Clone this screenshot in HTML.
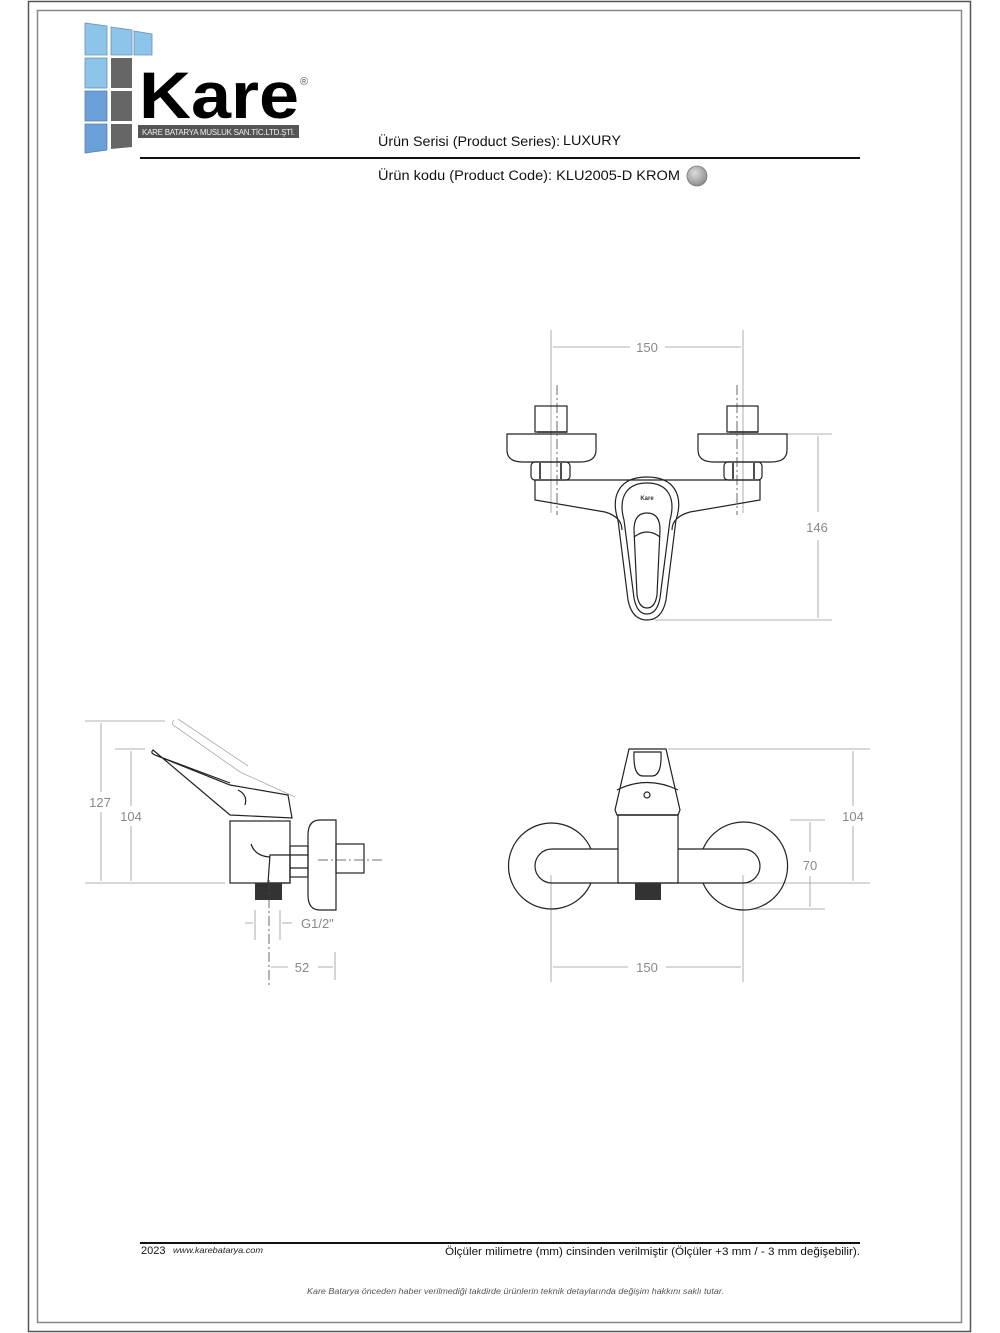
<!DOCTYPE html>
<html><head><meta charset="utf-8"><style>
html,body{margin:0;padding:0;background:#fff;}
svg{display:block;}
text{font-family:"Liberation Sans",Arial,sans-serif;}
</style></head><body>
<svg width="1000" height="1333" viewBox="0 0 1000 1333" xmlns="http://www.w3.org/2000/svg">
<rect x="28.5" y="1.5" width="942" height="1330" fill="none" stroke="#555" stroke-width="1.5"/>
<rect x="37.5" y="10.5" width="924" height="1312" fill="none" stroke="#888" stroke-width="1.5"/>

<!-- logo -->
<g>
<polygon points="85,23 107,26 107,55 85,55" fill="#8cc4ea" stroke="#6a8fb5" stroke-width="0.8"/>
<polygon points="111,27 132,30 132,55 111,55" fill="#8cc4ea" stroke="#6a8fb5" stroke-width="0.8"/>
<polygon points="134,31 152,34 152,55 134,55" fill="#8cc4ea" stroke="#6a8fb5" stroke-width="0.8"/>
<rect x="85" y="58" width="22" height="30" fill="#8cc4ea" stroke="#6a8fb5" stroke-width="0.8"/>
<rect x="111" y="58" width="21" height="30" fill="#666"/>
<rect x="85" y="91" width="22" height="30" fill="#6a9fd8" stroke="#5a7fb5" stroke-width="0.8"/>
<rect x="111" y="91" width="21" height="30" fill="#666"/>
<polygon points="85,124 107,124 107,150 85,153" fill="#6a9fd8" stroke="#5a7fb5" stroke-width="0.8"/>
<polygon points="111,124 132,124 132,147 111,149" fill="#666"/>
<text x="139" y="118" font-size="66" font-weight="bold" fill="#000" textLength="160" lengthAdjust="spacingAndGlyphs">Kare</text>
<text x="300" y="85" font-size="11" fill="#555">®</text>
<rect x="138" y="125" width="161" height="13" fill="#555"/>
<text x="142" y="135" font-size="8" fill="#eee" textLength="153">KARE BATARYA MUSLUK SAN.TİC.LTD.ŞTİ.</text>
</g>

<text x="378" y="146" font-size="13.5" fill="#111" textLength="182" lengthAdjust="spacingAndGlyphs">Ürün Serisi (Product Series):</text>
<text x="563" y="145" font-size="13.5" fill="#111" textLength="58" lengthAdjust="spacingAndGlyphs">LUXURY</text>
<line x1="140" y1="158" x2="860" y2="158" stroke="#111" stroke-width="2"/>
<text x="378" y="180" font-size="13.5" fill="#111" textLength="302" lengthAdjust="spacingAndGlyphs">Ürün kodu (Product Code): KLU2005-D  KROM</text>
<defs><radialGradient id="g" cx="0.4" cy="0.35" r="0.7"><stop offset="0" stop-color="#ddd"/><stop offset="1" stop-color="#888"/></radialGradient></defs>
<circle cx="697" cy="176" r="10" fill="url(#g)" stroke="#777" stroke-width="0.8"/>

<!-- TOP VIEW -->
<g stroke="#999" stroke-width="0.8" fill="none">
<line x1="551" y1="330" x2="551" y2="513"/>
<line x1="743" y1="330" x2="743" y2="513"/>
<line x1="553" y1="347" x2="630" y2="347"/>
<line x1="665" y1="347" x2="741" y2="347"/>
<line x1="787" y1="434" x2="832" y2="434"/>
<line x1="655" y1="620" x2="832" y2="620"/>
<line x1="818" y1="436" x2="818" y2="512"/>
<line x1="818" y1="540" x2="818" y2="618"/>
</g>
<text x="647" y="352" font-size="13" fill="#888" text-anchor="middle">150</text>
<text x="817" y="532" font-size="13" fill="#888" text-anchor="middle">146</text>
<g stroke="#222" stroke-width="1.2" fill="none">
<rect x="535" y="406" width="32" height="26"/>
<rect x="727" y="406" width="31" height="26"/>
<path d="M507,434 H596 V450 Q596,462 580,462 H523 Q507,462 507,450 Z"/>
<path d="M698,434 H787 V450 Q787,462 771,462 H714 Q698,462 698,450 Z"/>
<rect x="531" y="462" width="39" height="18" rx="4"/>
<rect x="724" y="462" width="38" height="18" rx="4"/>
<path d="M535,480 H760 V500 L690,512 Q672,517 672,530 M535,480 V500 L605,512 Q622,517 622,530"/>
<path d="M647,477 C620,477 610,495 618,520 L628,600 Q632,620 647,620 Q662,620 666,600 L676,520 C684,495 674,477 647,477 Z"/>
<path d="M647,483 C626,483 618,498 624,520 L634,598 Q637,614 647,614 Q657,614 660,598 L670,520 C676,498 668,483 647,483 Z"/>
<path d="M647,513 Q634,513 634,530 L637,595 Q639,608 647,608 Q655,608 657,595 L660,530 Q660,513 647,513 Z"/>
<path d="M634,537 Q647,527 660,537"/>
</g>
<g stroke="#222" stroke-width="1.6" fill="none">
<line x1="537" y1="432" x2="567" y2="432"/><line x1="729" y1="432" x2="758" y2="432"/>
<line x1="540" y1="463" x2="540" y2="479"/><line x1="561" y1="463" x2="561" y2="479"/>
<line x1="733" y1="463" x2="733" y2="479"/><line x1="754" y1="463" x2="754" y2="479"/>
</g>
<g stroke="#444" stroke-width="0.8" stroke-dasharray="10,3,2,3"><line x1="557" y1="385" x2="557" y2="515"/><line x1="737" y1="385" x2="737" y2="515"/></g>
<text x="647" y="500" font-size="6" font-weight="bold" fill="#333" text-anchor="middle">Kare</text>

<!-- SIDE VIEW -->
<g stroke="#999" stroke-width="0.8" fill="none">
<line x1="85" y1="721" x2="165" y2="721"/>
<line x1="85" y1="883" x2="225" y2="883"/>
<line x1="115" y1="749" x2="145" y2="749"/>
<line x1="101" y1="723" x2="101" y2="792"/><line x1="101" y1="812" x2="101" y2="881"/>
<line x1="131" y1="751" x2="131" y2="806"/><line x1="131" y1="826" x2="131" y2="881"/>
<line x1="255" y1="910" x2="255" y2="940"/><line x1="280" y1="910" x2="280" y2="940"/>
<line x1="245" y1="923" x2="253" y2="923"/><line x1="282" y1="923" x2="292" y2="923"/>
<line x1="335" y1="952" x2="335" y2="980"/>
<line x1="271" y1="967" x2="288" y2="967"/><line x1="318" y1="967" x2="333" y2="967"/>
</g>
<text x="100" y="807" font-size="13" fill="#888" text-anchor="middle">127</text>
<text x="131" y="821" font-size="13" fill="#888" text-anchor="middle">104</text>
<text x="301" y="928" font-size="13" fill="#888">G1/2"</text>
<text x="302" y="972" font-size="13" fill="#888" text-anchor="middle">52</text>
<g stroke="#aaa" stroke-width="0.8" fill="none">
<path d="M174,720 Q170,724 176,727 L240,772 L295,797"/>
<path d="M178,719 L248,766"/>
</g>
<g stroke="#222" stroke-width="1.2" fill="none">
<path d="M153,750 Q150,753 155,755 L230,785 L288,795 L292,818 L230,815 Z"/>
<path d="M155,755 L230,783"/>
<path d="M238,790 Q248,795 245,805"/>
<rect x="230" y="821" width="60" height="62"/>
<path d="M251,844 Q255,856 270,857"/>
<path d="M270,855 H290 V883 H268 Z"/>
<rect x="290" y="846" width="18" height="31"/>
<line x1="290" y1="855" x2="308" y2="855"/><line x1="290" y1="868" x2="308" y2="868"/>
<path d="M336,820 H320 Q308,820 308,835 V895 Q308,910 320,910 H336 Z"/>
<rect x="336" y="844" width="28" height="29"/>
</g>
<rect x="255" y="883" width="27" height="17" fill="#333"/>
<g stroke="#444" stroke-width="0.8" stroke-dasharray="10,3,2,3">
<line x1="269" y1="880" x2="269" y2="985"/>
<line x1="318" y1="860" x2="384" y2="860"/>
</g>

<!-- FRONT VIEW -->
<g stroke="#999" stroke-width="0.8" fill="none">
<line x1="668" y1="749" x2="870" y2="749"/>
<line x1="690" y1="883" x2="870" y2="883"/>
<line x1="790" y1="820" x2="825" y2="820"/>
<line x1="752" y1="909" x2="825" y2="909"/>
<line x1="853" y1="751" x2="853" y2="806"/><line x1="853" y1="826" x2="853" y2="881"/>
<line x1="810" y1="822" x2="810" y2="852"/><line x1="810" y1="876" x2="810" y2="907"/>
<line x1="551" y1="875" x2="551" y2="982"/><line x1="743" y1="875" x2="743" y2="982"/>
<line x1="553" y1="967" x2="628" y2="967"/><line x1="666" y1="967" x2="741" y2="967"/>
</g>
<text x="853" y="821" font-size="13" fill="#888" text-anchor="middle">104</text>
<text x="810" y="870" font-size="13" fill="#888" text-anchor="middle">70</text>
<text x="647" y="972" font-size="13" fill="#888" text-anchor="middle">150</text>
<g stroke="#222" stroke-width="1.2" fill="none">
<path d="M591,849 A43,43 0 1 0 591,883"/>
<path d="M703,849 A44,44 0 1 1 703,883"/>
<path d="M618,849 H552 A17,17 0 0 0 552,883 H743 A17,17 0 0 0 743,849 H678"/>
<rect x="618" y="815" width="60" height="68"/>
<path d="M629,749 H666 L680,810 L678,815 H617 L615,810 Z"/>
<path d="M634,752 H661 Q662,776 652,776 H643 Q633,776 634,752 Z"/>
<path d="M617,790 Q647,775 678,790"/>
<line x1="617" y1="815" x2="678" y2="815"/>
<circle cx="647" cy="795" r="3"/>
</g>
<rect x="635" y="883" width="26" height="17" fill="#333"/>

<!-- footer -->
<line x1="140" y1="1243" x2="860" y2="1243" stroke="#111" stroke-width="2"/>
<text x="141" y="1254" font-size="11" fill="#111">2023</text>
<text x="173" y="1253" font-size="8.5" font-style="italic" fill="#222" textLength="90" lengthAdjust="spacingAndGlyphs">www.karebatarya.com</text>
<text x="445" y="1255" font-size="11" fill="#111" textLength="415" lengthAdjust="spacingAndGlyphs">Ölçüler milimetre (mm) cinsinden verilmiştir (Ölçüler  +3 mm / - 3 mm değişebilir).</text>
<text x="307" y="1294" font-size="8.5" font-style="italic" fill="#555" textLength="417" lengthAdjust="spacingAndGlyphs">Kare Batarya önceden haber verilmediği takdirde ürünlerin teknik detaylarında değişim hakkını saklı tutar.</text>
</svg>
</body></html>
